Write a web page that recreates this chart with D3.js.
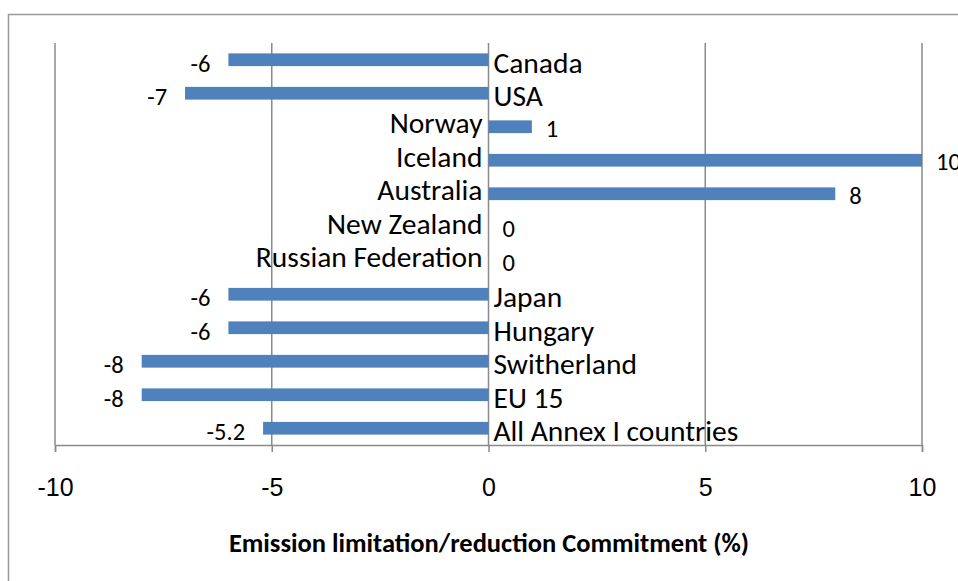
<!DOCTYPE html>
<html>
<head>
<meta charset="utf-8">
<script src="https://cdn.jsdelivr.net/npm/d3@7"></script>
<style>
  html, body { margin: 0; padding: 0; background: #fff; }
  svg { display: block; font-family: Carlito, Lato, "Open Sans", sans-serif; }
</style>
</head>
<body>
<svg id="chart" width="958" height="581"></svg>
<script>
// Emission limitation / reduction commitments by party (%)
const categories = [
  "Canada", "USA", "Norway", "Iceland", "Australia", "New Zealand",
  "Russian Federation", "Japan", "Hungary", "Switherland", "EU 15",
  "All Annex I countries"
];
const commitments = [-6, -7, 1, 10, 8, 0, 0, -6, -6, -8, -8, -5.2];
const xTicks = [-10, -5, 0, 5, 10];
const axisTitle = "Emission limitation/reduction Commitment (%)";

const svg = d3.select("#chart");
const gray = "#8a8a8a";
const barColor = "#4f81bd";
const fmt = v => (v < 0 ? "-" + Math.abs(v) : String(v));

// Outer chart frame
svg.append("rect")
  .attr("x", 8.5).attr("y", 14.5)
  .attr("width", 1000).attr("height", 700)
  .attr("fill", "none").attr("stroke", "#9a9a9a").attr("stroke-width", 1.5);

const x = d3.scaleLinear().domain([-10, 10]).range([55, 922]);
const y = d3.scaleBand().domain(categories).range([43, 445]).paddingInner(0.62).paddingOuter(0.31);

// Vertical gridlines
svg.append("g").selectAll("line").data(xTicks).join("line")
  .attr("x1", d => x(d)).attr("x2", d => x(d))
  .attr("y1", 43).attr("y2", 445)
  .attr("stroke", gray).attr("stroke-width", 1.5);

// Bottom axis
const axis = d3.axisBottom(x).tickValues(xTicks).tickSize(7).tickPadding(26).tickFormat(fmt);
const gAxis = svg.append("g").attr("transform", "translate(0,445)").call(axis);
gAxis.select(".domain").attr("stroke", gray).attr("stroke-width", 1.5);
gAxis.selectAll(".tick line").attr("stroke", gray).attr("stroke-width", 1.5);
gAxis.selectAll(".tick text")
  .attr("fill", "#000").attr("font-size", 25).attr("font-family", null);

// Bars
const data = categories.map((c, i) => ({ name: c, value: commitments[i] }));
svg.append("g").selectAll("rect").data(data).join("rect")
  .attr("x", d => x(Math.min(0, d.value)))
  .attr("width", d => Math.abs(x(d.value) - x(0)))
  .attr("y", d => y(d.name))
  .attr("height", y.bandwidth())
  .attr("fill", barColor);

const mid = d => y(d.name) + y.bandwidth() / 2;

// Category labels beside the zero line
svg.append("g").selectAll("text").data(data).join("text")
  .attr("x", d => d.value < 0 ? x(0) + 5 : x(0) - 6)
  .attr("y", d => mid(d) + (d.value < 0 ? 13 : 6.5))
  .attr("text-anchor", d => d.value < 0 ? "start" : "end")
  .attr("font-size", 29.5)
  .attr("fill", "#000")
  .text(d => d.name);

// Value labels at bar ends
svg.append("g").selectAll("text").data(data).join("text")
  .attr("x", d => d.value < 0 ? x(d.value) - 18 : x(d.value) + 14)
  .attr("y", d => mid(d) + (d.value < 0 ? 12 : 10))
  .attr("text-anchor", d => d.value < 0 ? "end" : "start")
  .attr("font-size", 24.5)
  .attr("fill", "#000")
  .text(d => fmt(d.value));

// Axis title
svg.append("text")
  .attr("x", 489).attr("y", 552)
  .attr("text-anchor", "middle")
  .attr("font-size", 26.5).attr("font-weight", "bold")
  .attr("fill", "#000")
  .text(axisTitle);
</script>
</body>
</html>
